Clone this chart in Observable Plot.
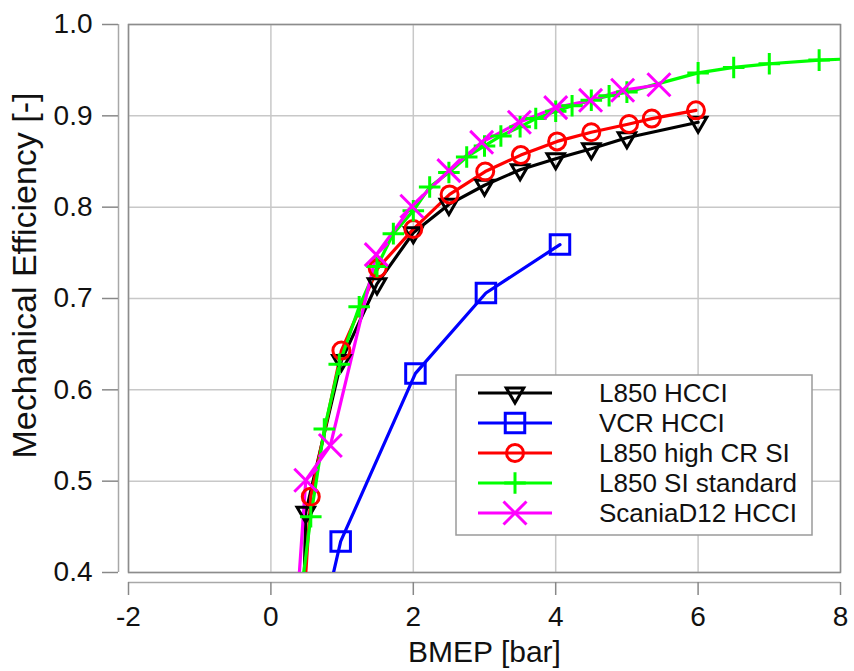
<!DOCTYPE html>
<html>
<head>
<meta charset="utf-8">
<script src="https://cdn.jsdelivr.net/npm/d3@7"></script>
<script src="https://cdn.jsdelivr.net/npm/@observablehq/plot@0.6"></script>
<style>
  html, body { margin: 0; padding: 0; background: #ffffff; }
  #wrap { position: relative; width: 854px; height: 671px; font-family: "Liberation Sans", Arial, sans-serif; }
  #legend { position: absolute; left: 455px; top: 374px; }
</style>
</head>
<body>
<div id="wrap"><div id="legend"></div></div>
<script>
// ---- tick labels / axis titles ----
const xTicks = [-2, 0, 2, 4, 6, 8];
const yTicks = [0.4, 0.5, 0.6, 0.7, 0.8, 0.9, 1.0];
const xLabel = "BMEP [bar]";
const yLabel = "Mechanical Efficiency [-]";

// ---- series ----
const seriesNames = ["L850 HCCI", "VCR HCCI", "L850 high CR SI", "L850 SI standard", "ScaniaD12 HCCI"];
const seriesColors = ["#000000", "#0000ff", "#ff0000", "#00ff00", "#ff00ff"];
const seriesSymbols = ["triangle", "square", "circle", "plus", "times"];

// first value of each series lies below the visible range (line runs off the bottom)
const l850HcciX = [0.45, 0.49, 0.99, 1.49, 2.0, 2.5, 3.0, 3.5, 4.0, 4.5, 5.0, 6.0];
const l850HcciY = [0.33, 0.466, 0.632, 0.716, 0.772, 0.803, 0.824, 0.841, 0.853, 0.864, 0.876, 0.893];

const vcrHcciX = [0.75, 0.98, 2.03, 3.02, 4.06];
const vcrHcciY = [0.356, 0.434, 0.618, 0.706, 0.759];

const l850HighCrX = [0.44, 0.56, 0.99, 1.5, 2.0, 2.51, 3.01, 3.51, 4.02, 4.5, 5.03, 5.35, 5.97];
const l850HighCrY = [0.34, 0.483, 0.643, 0.733, 0.776, 0.814, 0.839, 0.857, 0.872, 0.882, 0.891, 0.897, 0.906];

const l850SiStdX = [0.35, 0.56, 0.75, 0.96, 1.24, 1.49, 1.72, 2.0, 2.23, 2.5, 2.75, 3.0, 3.23, 3.5, 3.72, 4.0, 4.23, 4.5, 4.75, 5.0, 6.0, 6.5, 7.0, 7.7, 8.3];
const l850SiStdY = [0.33, 0.461, 0.557, 0.628, 0.691, 0.735, 0.771, 0.796, 0.822, 0.838, 0.855, 0.867, 0.878, 0.888, 0.897, 0.905, 0.911, 0.917, 0.922, 0.926, 0.947, 0.953, 0.957, 0.961, 0.963];

const scaniaX = [0.35, 0.49, 0.835, 1.48, 1.98, 2.5, 2.96, 3.49, 4.0, 4.49, 4.94, 5.45];
const scaniaY = [0.344, 0.501, 0.539, 0.748, 0.801, 0.84, 0.871, 0.893, 0.909, 0.917, 0.928, 0.934];

const seriesX = [l850HcciX, vcrHcciX, l850HighCrX, l850SiStdX, scaniaX];
const seriesY = [l850HcciY, vcrHcciY, l850HighCrY, l850SiStdY, scaniaY];

// ---- styling ----
const symbolR = [6.5, 11, 8.5, 7, 10.5];
const symbolRotate = [180, 0, 0, 0, 0];
const fontFamily = "Liberation Sans, Arial, sans-serif";

const seriesMarks = [];
seriesNames.forEach((name, i) => {
  const rows = seriesX[i].map((x, j) => ({x, y: seriesY[i][j], series: name}));
  seriesMarks.push(Plot.line(rows, {x: "x", y: "y", stroke: seriesColors[i], strokeWidth: 3.2, clip: true}));
});
seriesNames.forEach((name, i) => {
  const rows = seriesX[i].map((x, j) => ({x, y: seriesY[i][j], series: name}));
  seriesMarks.push(Plot.dot(rows, {
    x: "x", y: "y", symbol: seriesSymbols[i], r: symbolR[i], rotate: symbolRotate[i],
    stroke: seriesColors[i], strokeWidth: 3, fill: "none", clip: true
  }));
});

const chart = Plot.plot({
  width: 854,
  height: 671,
  marginLeft: 128,
  marginRight: 14,
  marginTop: 24,
  marginBottom: 99,
  style: {fontFamily, background: "#ffffff", color: "#111"},
  x: {domain: [-2, 8]},
  y: {domain: [0.4, 1.0]},
  marks: [
    Plot.gridX(xTicks, {stroke: "#c8c8c8", strokeOpacity: 1, strokeWidth: 1.5}),
    Plot.gridY(yTicks, {stroke: "#c8c8c8", strokeOpacity: 1, strokeWidth: 1.5}),
    Plot.frame({stroke: "#8c8c8c", strokeWidth: 1.5}),
    Plot.ruleY([0.4], {dy: 10, stroke: "#a8a8a8", strokeWidth: 1.5}),
    Plot.ruleX([-2], {dx: -10, stroke: "#a8a8a8", strokeWidth: 1.5}),
    Plot.axisX(xTicks, {tickSize: 13, tickPadding: 11, dy: 10, fontSize: 28, label: null,
      stroke: "#888", fill: "#111", strokeWidth: 1.5, tickFormat: d => String(d)}),
    Plot.axisY(yTicks, {tickSize: 16, tickPadding: 10, dx: -10, fontSize: 28, label: null,
      stroke: "#888", fill: "#111", strokeWidth: 1.5, tickFormat: d3.format(".1f")}),
    Plot.text([xLabel], {text: d => d, frameAnchor: "bottom", dy: 80, lineAnchor: "middle", textAnchor: "middle", fontSize: 30, fill: "#111"}),
    Plot.text([yLabel], {text: d => d, frameAnchor: "left", dx: -103, dy: -23, rotate: -90, lineAnchor: "middle", textAnchor: "middle", fontSize: 34, fill: "#111"}),
    ...seriesMarks
  ]
});
document.getElementById("wrap").insertBefore(chart, document.getElementById("legend"));

// ---- legend ----
const symbolMap = {triangle: d3.symbolTriangle, square: d3.symbolSquare, circle: d3.symbolCircle, plus: d3.symbolPlus, times: d3.symbolTimes};
const leg = d3.create("svg").attr("width", 359).attr("height", 163)
  .style("font-family", fontFamily);
leg.append("rect").attr("x", 1).attr("y", 1).attr("width", 356).attr("height", 160)
  .attr("fill", "#ffffff").attr("stroke", "#9a9a9a").attr("stroke-width", 1.5);
seriesNames.forEach((name, i) => {
  const cy = 19 + i * 30;
  leg.append("line").attr("x1", 23).attr("x2", 97).attr("y1", cy).attr("y2", cy)
    .attr("stroke", seriesColors[i]).attr("stroke-width", 3.2);
  leg.append("path")
    .attr("d", d3.symbol(symbolMap[seriesSymbols[i]], Math.PI * symbolR[i] * symbolR[i])())
    .attr("transform", `translate(60,${cy}) rotate(${symbolRotate[i]})`)
    .attr("fill", "none").attr("stroke", seriesColors[i]).attr("stroke-width", 3);
  leg.append("text").attr("x", 144).attr("y", cy).attr("dy", "0.36em")
    .attr("font-size", 26).attr("fill", "#111").text(name);
});
document.getElementById("legend").appendChild(leg.node());
</script>
</body>
</html>
